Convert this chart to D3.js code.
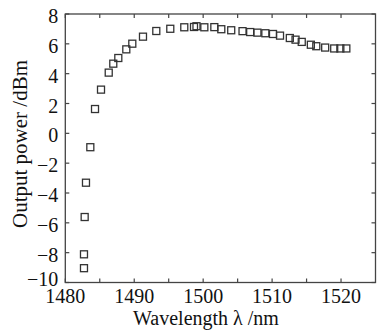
<!DOCTYPE html>
<html>
<head>
<meta charset="utf-8">
<script src="https://cdn.jsdelivr.net/npm/d3@7"></script>
<style>
  html, body { margin: 0; padding: 0; background: #fff; }
  svg { display: block; }
</style>
</head>
<body>
<svg id="chart" width="378" height="330"></svg>
<script>
const wavelength = [
  1482.71, 1482.71, 1482.81, 1483.0, 1483.63, 1484.31, 1485.18, 1486.3, 1486.96,
  1487.69, 1488.85, 1489.72, 1491.27, 1493.2, 1495.23, 1497.26, 1498.67, 1499.03,
  1500.17, 1501.62, 1502.63, 1504.07, 1505.71, 1506.82, 1507.87, 1509.02, 1510.13,
  1511.15, 1512.57, 1513.4, 1514.3, 1515.62, 1516.41, 1517.7, 1519.01, 1519.9, 1520.77
];
const power = [
  -9.04, -8.11, -5.61, -3.31, -0.93, 1.63, 2.93, 4.07, 4.67,
  5.05, 5.63, 6.01, 6.48, 6.86, 7.01, 7.11, 7.13, 7.18,
  7.11, 7.12, 6.98, 6.91, 6.85, 6.79, 6.75, 6.71, 6.66,
  6.55, 6.39, 6.28, 6.13, 5.94, 5.84, 5.75, 5.69, 5.69, 5.69
];
const xTicks = [1480, 1485, 1490, 1495, 1500, 1505, 1510, 1515, 1520];
const xLabels = [1480, 1490, 1500, 1510, 1520];
const yTicks = [8, 6, 4, 2, 0, -2, -4, -6, -8, -10];

const margin = { left: 65.3, top: 14, right: 2.5, bottom: 47.5 };
const W = 378, H = 330;
const font = "'Liberation Serif', 'DejaVu Serif', 'Times New Roman', serif";
const svg = d3.select("#chart")
  .attr("font-family", font);

const x = d3.scaleLinear().domain([1480, 1525]).range([margin.left, W - margin.right]);
const y = d3.scaleLinear().domain([-10, 8]).range([H - margin.bottom, margin.top]);

const axisColor = "#444";
const tickLen = 4;

// tick marks, pointing inward on all four sides
const tickG = svg.append("g").attr("stroke", axisColor).attr("stroke-width", 1.2);
xTicks.forEach((t) => {
  tickG.append("line").attr("x1", x(t)).attr("x2", x(t))
    .attr("y1", y(-10)).attr("y2", y(-10) - tickLen);
  tickG.append("line").attr("x1", x(t)).attr("x2", x(t))
    .attr("y1", y(8)).attr("y2", y(8) + tickLen);
});
yTicks.forEach((t) => {
  tickG.append("line").attr("x1", x(1480)).attr("x2", x(1480) + tickLen)
    .attr("y1", y(t)).attr("y2", y(t));
  tickG.append("line").attr("x1", x(1525)).attr("x2", x(1525) - tickLen)
    .attr("y1", y(t)).attr("y2", y(t));
});

// frame
svg.append("rect")
  .attr("x", x(1480)).attr("y", y(8))
  .attr("width", x(1525) - x(1480)).attr("height", y(-10) - y(8))
  .attr("fill", "none").attr("stroke", axisColor).attr("stroke-width", 1.3);

// tick labels
svg.append("g").selectAll("text").data(xLabels).join("text")
  .attr("x", (d) => x(d)).attr("y", y(-10) + 20)
  .attr("text-anchor", "middle").attr("font-size", 20).attr("fill", "#111")
  .text((d) => d);

svg.append("g").selectAll("text").data(yTicks).join("text")
  .attr("x", x(1480) - 7).attr("y", (d) => y(d) + (d === -10 ? -4 : 2))
  .attr("dy", "0.35em")
  .attr("text-anchor", "end").attr("font-size", 20).attr("fill", "#111")
  .text((d) => (d < 0 ? "\u2212" + Math.abs(d) : d));

// axis titles
svg.append("text")
  .attr("x", 206).attr("y", 325)
  .attr("text-anchor", "middle").attr("font-size", 20).attr("fill", "#111")
  .text("Wavelength \u03bb /nm");

svg.append("text")
  .attr("transform", "translate(27,144) rotate(-90)")
  .attr("text-anchor", "middle").attr("font-size", 21).attr("fill", "#111")
  .text("Output power /dBm");

// markers
const s = 7;
svg.append("g").selectAll("rect").data(wavelength).join("rect")
  .attr("x", (d) => x(d) - s / 2)
  .attr("y", (d, i) => y(power[i]) - s / 2)
  .attr("width", s).attr("height", s)
  .attr("fill", "none").attr("stroke", "#333").attr("stroke-width", 1.3);
</script>
</body>
</html>
